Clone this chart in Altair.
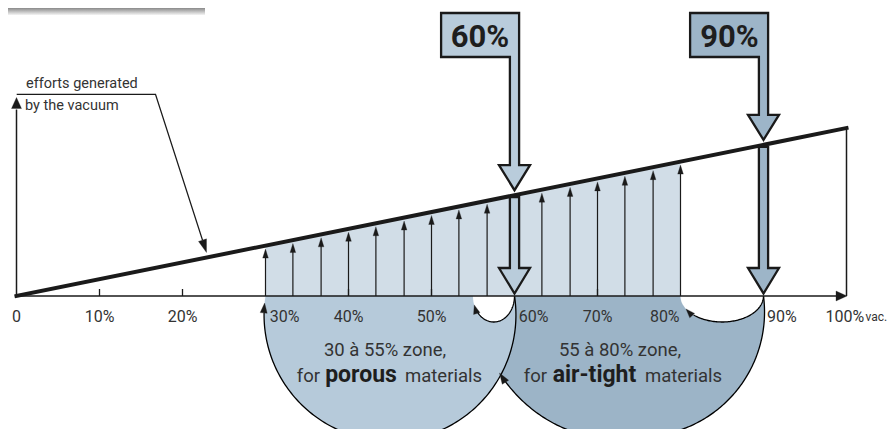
import math
import altair as alt
import numpy as np
import pandas as pd

# ---------------- values ----------------
axis_labels    = ["0", "10%", "20%", "30%", "40%", "50%", "60%", "70%", "80%", "90%", "100%"]
label_pcts     = [0, 10, 20, 32.3, 40, 50, 62.3, 70, 78.1, 92.2, 99.8]
tick_pcts      = [10, 20, 40, 50, 70]
effort_pcts    = [0, 100]
effort_level   = [0, 100]
force_pcts     = [30, 33.3, 36.7, 40, 43.3, 46.7, 50, 53.3, 56.7, 63.3, 66.7, 70, 73.3, 76.7, 80]
shade_pcts     = [30, 80]
threshold_pcts = [60, 90]
threshold_txt  = ["60%", "90%"]
zone_line1     = ["30 à 55% zone,", "55 à 80% zone,"]
zone_bold      = ["porous", "air-tight"]
effort_note    = ["efforts generated", "by the vacuum"]

# ---------------- layout (page pixels -> data units) ----------------
PX0, PXU = 16.5, 8.3      # page x of 0 %, px per %
PY0, PYU = 296.0, 1.68    # page y of the axis, px per effort unit
W, H = 879, 421

def to_x(p): return (p - PX0) / PXU
def to_y(p): return (PY0 - p) / PYU
def px(x): return PX0 + PXU * x
def py(e): return PY0 - PYU * e

XS = alt.Scale(domain=[to_x(8), to_x(8 + W)], nice=False, zero=False)
YS = alt.Scale(domain=[to_y(8 + H), to_y(8)], nice=False, zero=False)
def X(f="x"): return alt.X(f"{f}:Q", scale=XS, axis=None)
def Y(f="y"): return alt.Y(f"{f}:Q", scale=YS, axis=None)

FONT = "Roboto, Liberation Sans, sans-serif"
TXT = "#333333"
C_SHADE, C_LEFT, C_RIGHT = "#d1dde7", "#b6cada", "#9cb4c7"
C_T = ["#b9ccdb", "#9db5c8"]

def rows(points, g):
    return [{"g": g, "o": i, "x": to_x(a), "y": to_y(b)} for i, (a, b) in enumerate(points)]

def head(tip, u, L, w):
    ux, uy = u
    n = math.hypot(ux, uy); ux /= n; uy /= n
    bx, by = tip[0] - L * ux, tip[1] - L * uy
    nx, ny = -uy, ux
    return [tip, (bx + w * nx, by + w * ny), (bx - w * nx, by - w * ny)], (bx, by)

def poly(df, fill, stroke, sw):
    return alt.Chart(df).mark_line(interpolate="linear-closed", fill=fill, stroke=stroke,
                                   strokeWidth=sw, strokeJoin="miter").encode(
        x=X(), y=Y(), detail="g:N", order="o:Q")

def pline(df, sw, color="black"):
    return alt.Chart(df).mark_line(stroke=color, strokeWidth=sw).encode(
        x=X(), y=Y(), detail="g:N", order="o:Q")

def text_layer(df, size, align, weight="normal", color=TXT):
    return alt.Chart(df).mark_text(font=FONT, fontSize=size, fontWeight=weight, color=color,
                                   align=align, baseline="alphabetic").encode(x=X(), y=Y(), text="t:N")

heads = []

# ---- left circle (30 -> 60 %) ----
cxL, cyL = px(45), 315.0
hwL = (px(60) - px(30)) / 2
RL = math.hypot(hwL, cyL - PY0)
a0 = math.atan2(PY0 - cyL, hwL)
a1 = math.pi - a0
circ = lambda a: (cxL + RL * math.cos(a), cyL + RL * math.sin(a))
left_fill = pd.DataFrame(rows([circ(a) for a in np.linspace(a0, a1, 160)], "L"))
a_tip = math.pi + math.asin((cyL - 303) / RL)
a_base = a_tip - 10 / RL
left_arc = pd.DataFrame(rows([circ(a) for a in np.linspace(a0, a_base, 160)], "L"))
h, _ = head(circ(a_tip), (-math.sin(a_tip), math.cos(a_tip)), 10, 3.5)
heads += rows(h, "hL")

# ---- dark spiral (90 % -> back to 60 %) ----
cxD, cyD = px(75.1), 312.0
rD0 = math.hypot(px(90) - cxD, PY0 - cyD)
b0 = math.atan2(PY0 - cyD, px(90) - cxD)
bE, rE = math.radians(156.5), 153.0
def rD(b): return rD0 if b <= math.pi / 2 else rD0 + (b - math.pi / 2) / (bE - math.pi / 2) * (rE - rD0)
def sp(b): return (cxD + rD(b) * math.cos(b), cyD + rD(b) * math.sin(b))
dark_pts = [sp(b) for b in np.linspace(b0, bE, 200)] + [(px(60), PY0)]
dark_fill = pd.DataFrame(rows(dark_pts, "D"))
dark_arc = pd.DataFrame(rows([sp(b) for b in np.linspace(b0, bE - 10 / rE, 200)], "D"))
rp = (rE - rD0) / (bE - math.pi / 2)
tD = (rp * math.cos(bE) - rE * math.sin(bE), rp * math.sin(bE) + rE * math.cos(bE))
h, _ = head(sp(bE), tD, 11, 3.8)
heads += rows(h, "hD")

# ---- small return arcs (60 -> 55 %, 90 -> 80 %) ----
small_fill, small_arc = [], []
for g, (p1, p2, t_tip) in {"S1": (55, 60, 160), "S2": (80, 90, 150)}.items():
    cx, rx, ry = (px(p1) + px(p2)) / 2, (px(p2) - px(p1)) / 2, 26.0
    el = lambda t: (cx + rx * math.cos(t), PY0 + ry * math.sin(t))
    small_fill += rows([el(t) for t in np.linspace(0, math.pi, 80)], g)
    tt = math.radians(t_tip)
    sp_ = math.hypot(rx * math.sin(tt), ry * math.cos(tt))
    small_arc += rows([el(t) for t in np.linspace(0, tt - 9 / sp_, 80)], g)
    h, _ = head(el(tt), (-rx * math.sin(tt), ry * math.cos(tt)), 9, 3.3)
    heads += rows(h, "h" + g)
small_fill = pd.DataFrame(small_fill)
small_arc = pd.DataFrame(small_arc)

# ---- force arrows ----
force_rules = []
for i, p in enumerate(force_pcts):
    tip = (px(p), py(p) + 3.5)
    h, base = head(tip, (0, -1), 9, 2.8)
    heads += rows(h, f"f{i}")
    force_rules.append({"x": p, "y": 0, "y2": to_y(base[1] - 1)})
force_rules = pd.DataFrame(force_rules)

# ---- axes ----
h, xb = head((px(100) + 0.5, PY0), (1, 0), 11, 5)
heads += rows(h, "ax")
h, yb = head((px(0), 97.5), (0, -1), 11, 5)
heads += rows(h, "ay")
axis_lines = pd.DataFrame(
    rows([(px(0), PY0), (xb[0] + 1, PY0)], "xa") +
    rows([(px(0), PY0), (px(0), yb[1] + 1)], "ya") +
    rows([(px(100), PY0), (px(100), py(100))], "v100"))
ticks = pd.DataFrame({"x": tick_pcts, "y": [0] * len(tick_pcts), "y2": [to_y(289)] * len(tick_pcts)})

# ---- leader line ----
lt = (206.5, 252.5)
h, lb = head(lt, (lt[0] - 155.5, lt[1] - 94.3), 13, 4.2)
heads += rows(h, "lead")
leader = pd.DataFrame(rows([(16.7, 94.3), (155.5, 94.3), lb], "lead"))

# ---- threshold arrows ----
thr_layers = []
for k, p in enumerate(threshold_pcts):
    c = px(p); s = 4.6; hw = 15.5
    ly = py(p)
    tip_u = ly - 5; base_u = tip_u - 25
    upper = [(c + s - 78, 13), (c + s, 13), (c + s, base_u), (c + hw, base_u), (c, tip_u),
             (c - hw, base_u), (c - s, base_u), (c - s, 57), (c + s - 78, 57)]
    lower = [(c - s, ly + 2), (c + s, ly + 2), (c + s, 268), (c + hw, 268), (c, 293.5),
             (c - hw, 268), (c - s, 268)]
    df = pd.DataFrame(rows(upper, f"u{k}") + rows(lower, f"l{k}"))
    thr_layers.append(poly(df, C_T[k], "#1a1a1a", 2.3))

heads = pd.DataFrame(heads)

# ---- shaded area, effort line ----
shade = pd.DataFrame({"x": shade_pcts, "y": shade_pcts, "y0": [0, 0]})
effort = pd.DataFrame({"x": effort_pcts, "y": effort_level})

bar = pd.DataFrame({"x": [to_x(8)], "x2": [to_x(205)], "y": [to_y(8)], "y2": [to_y(15)]})
bar_layer = alt.Chart(bar).mark_rect(
    fill=alt.Gradient(gradient="linear", x1=0, x2=0, y1=0, y2=1,
                      stops=[alt.GradientStop(offset=0, color="#8a8a8a"),
                             alt.GradientStop(offset=1, color="#f4f4f4")])
).encode(x=X(), x2="x2:Q", y=Y(), y2="y2:Q")

# ---- texts ----
lab = pd.DataFrame({"x": label_pcts, "y": [to_y(322)] * 11, "t": axis_labels})
vac = pd.DataFrame({"x": [to_x(865.5)], "y": [to_y(321)], "t": ["vac."]})
note = pd.DataFrame({"x": [to_x(26), to_x(25)], "y": [to_y(87.5), to_y(109.5)], "t": effort_note})
box = pd.DataFrame({"x": [to_x(480), to_x(729.5)], "y": [to_y(47)] * 2, "t": threshold_txt})
z1 = pd.DataFrame({"x": [to_x(385), to_x(620)], "y": [to_y(355.5)] * 2, "t": zone_line1})
zf = pd.DataFrame({"x": [to_x(320), to_x(547)], "y": [to_y(382)] * 2, "t": ["for", "for"]})
zb = pd.DataFrame({"x": [to_x(361), to_x(594.5)], "y": [to_y(382)] * 2, "t": zone_bold})
zm = pd.DataFrame({"x": [to_x(405), to_x(645)], "y": [to_y(382)] * 2, "t": ["materials", "materials"]})

layers = [
    bar_layer,
    alt.Chart(shade).mark_area(color=C_SHADE, opacity=1).encode(x=X(), y=Y(), y2="y0:Q"),
    poly(dark_fill, C_RIGHT, C_RIGHT, 0.1),
    poly(left_fill, C_LEFT, C_LEFT, 0.1),
    poly(small_fill, "white", "white", 0.1),
    pline(left_arc, 1.3), pline(dark_arc, 1.3), pline(small_arc, 1.3),
    alt.Chart(force_rules).mark_rule(color="#1a1a1a", strokeWidth=1.2).encode(x=X(), y=Y(), y2="y2:Q"),
    alt.Chart(ticks).mark_rule(color="#1a1a1a", strokeWidth=1.3).encode(x=X(), y=Y(), y2="y2:Q"),
    pline(axis_lines, 1.5, "#1a1a1a"),
    pline(leader, 1.3, "#1a1a1a"),
    *thr_layers,
    alt.Chart(effort).mark_line(color="#1a1a1a", strokeWidth=4, strokeCap="square").encode(x=X(), y=Y()),
    poly(heads, "#1a1a1a", "#1a1a1a", 0.3),
    text_layer(lab, 16, "center"),
    text_layer(vac, 12, "left"),
    text_layer(note, 14.5, "left"),
    text_layer(box, 31, "center", "bold", "#1e1e1e"),
    text_layer(z1, 18.5, "center"),
    text_layer(zf, 18.5, "right"),
    text_layer(zb, 23, "center", "bold", "#1e1e1e"),
    text_layer(zm, 18.5, "left"),
]

chart = alt.layer(*layers).properties(
    width=W, height=H, padding=0, autosize=alt.AutoSizeParams(type="none"), background="white"
).configure_view(stroke=None)

chart.save("out.html", embed_options={"renderer": "svg", "actions": False})
